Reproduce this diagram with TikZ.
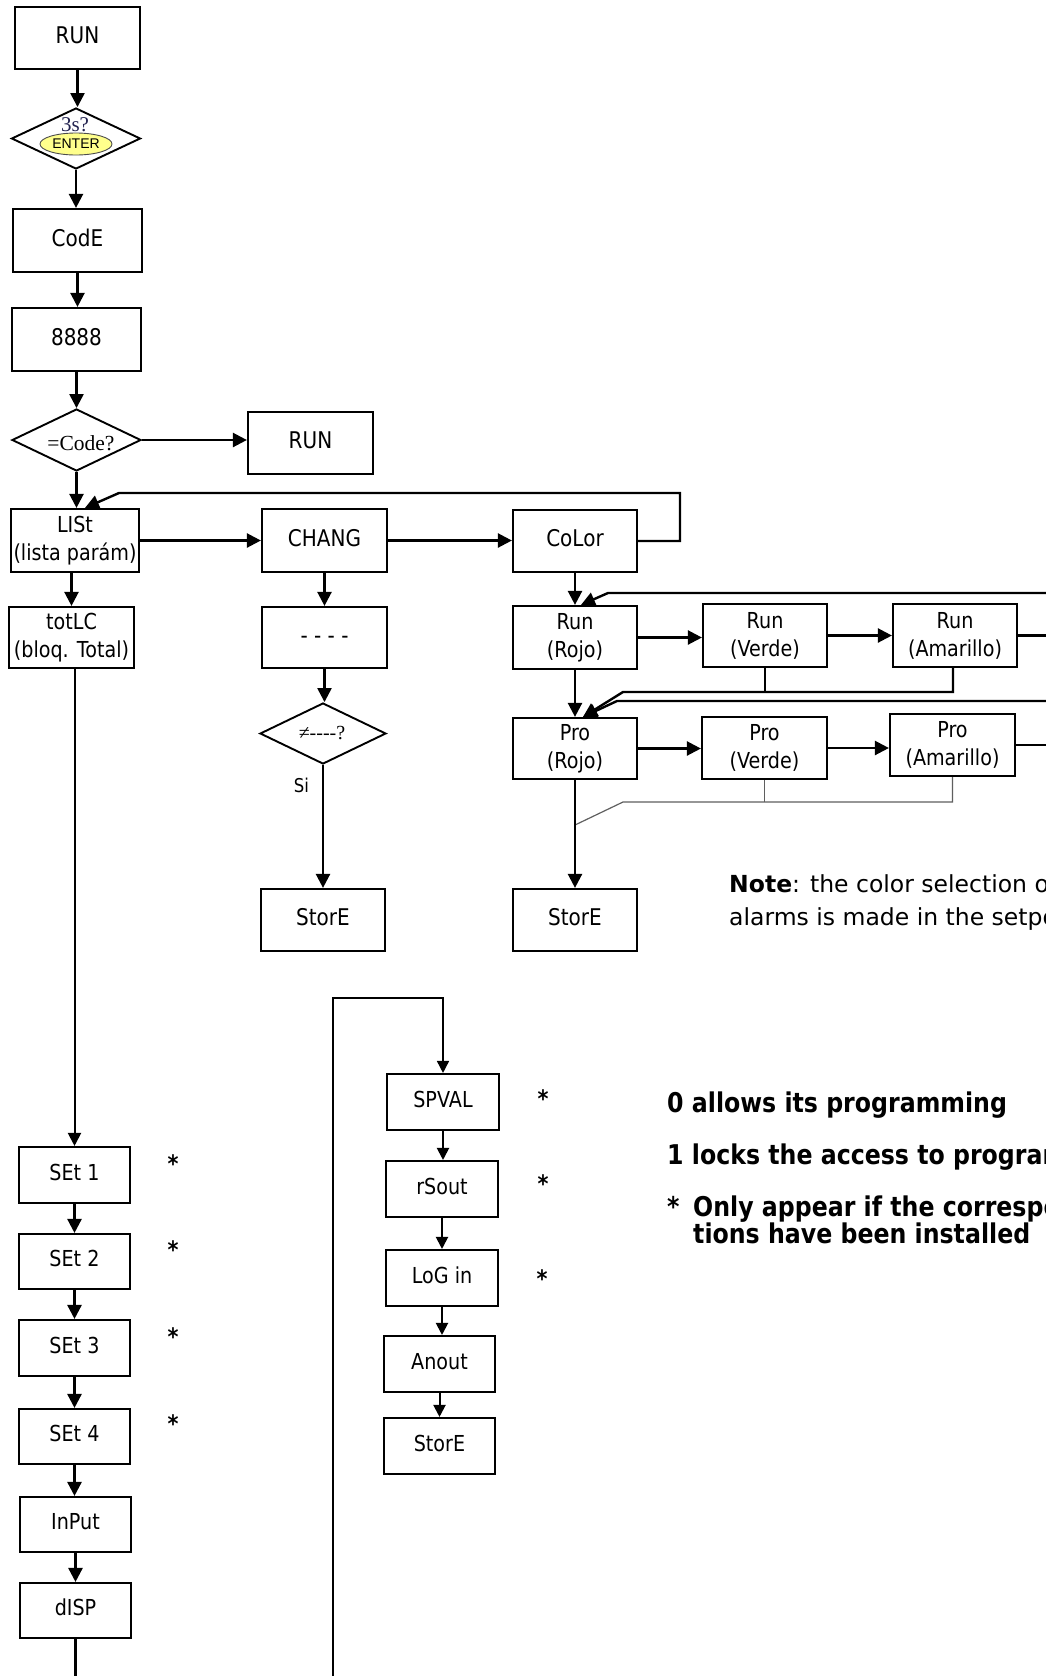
\documentclass[tikz,border=0pt]{standalone}
\usepackage{fontspec}
\setmainfont{DejaVu Sans}[FakeStretch=0.87]
\newfontfamily\verd{DejaVu Sans}
\newfontfamily\tim{Liberation Serif}
\newfontfamily\ari{Liberation Sans}
\usetikzlibrary{shapes.geometric,arrows.meta}
\definecolor{enteryellow}{RGB}{255,255,140}
\definecolor{navytxt}{RGB}{35,35,80}
\definecolor{thingray}{RGB}{95,95,95}
\tikzset{
  bigbox/.style={draw, line width=2.2pt, inner sep=0pt, font=\fontsize{23}{28}\selectfont, text height=17pt, text depth=6pt},
  twobox/.style={draw, line width=2.2pt, inner sep=0pt, align=center, font=\fontsize{22}{28}\selectfont},
  smallbox/.style={draw, line width=2.1pt, inner sep=0pt, minimum height=56pt, font=\fontsize{22}{26}\selectfont, text height=16pt, text depth=5.5pt},
  dia/.style={diamond, draw, line width=1.9pt, inner sep=0pt},
  arr/.style={line width=2.4pt, -{Triangle[length=14pt,width=14pt]}},
  sarr/.style={line width=2pt, -{Triangle[length=12pt,width=12pt]}},
  lline/.style={line width=2.4pt},
  tline/.style={line width=1.1pt},
  gline/.style={line width=1.2pt, draw=thingray},
  star/.style={font=\bfseries\fontsize{24}{24}\selectfont, anchor=base, inner sep=0pt},
  blk/.style={font=\bfseries\fontsize{27.2}{30}\selectfont, anchor=base west, inner sep=0pt},
}
\begin{document}
\begin{tikzpicture}[x=1pt,y=-1pt]
\useasboundingbox (0,0) rectangle (1046,1676);
\clip (0,0) rectangle (1046,1676);
\fill[white] (0,0) rectangle (1046,1676);

% main column
\node[bigbox, minimum width=125pt, minimum height=62pt] (run1) at (77.5,38) {RUN};
\node[dia, minimum width=129pt, minimum height=61pt] (d1) at (76,138.5) {};
\node[font=\tim\fontsize{21}{21}\selectfont, text=navytxt, inner sep=0pt] (q3s) at (75,125) {3s?};
\node[ellipse, draw=black!70, line width=0.9pt, fill=enteryellow, minimum width=72pt, minimum height=22pt, inner sep=0pt, font=\ari\fontsize{14}{14}\selectfont] (enter) at (76,144) {ENTER};
\node[bigbox, minimum width=129pt, minimum height=63pt] (code) at (77.5,240.5) {CodE};
\node[bigbox, minimum width=129pt, minimum height=63pt] (n8888) at (76.5,339.5) {8888};
\node[dia, minimum width=129pt, minimum height=62pt] (d2) at (76.5,440) {};
\node[font=\tim\fontsize{21.5}{21.5}\selectfont, inner sep=0pt] (qcode) at (81,443) {=Code?};
\node[bigbox, minimum width=125pt, minimum height=62pt] (run2) at (310.5,443) {RUN};
\node[twobox, minimum width=128pt, minimum height=63pt] (list) at (75,540.5) {LISt\\(lista parám)};
\node[bigbox, minimum width=125pt, minimum height=63pt] (chang) at (324.5,540.5) {CHANG};
\node[bigbox, minimum width=124pt, minimum height=62pt] (color) at (575,541) {CoLor};
\node[twobox, minimum width=125pt, minimum height=61pt] (totlc) at (71.5,637.5) {totLC\\(bloq. Total)};
\node[bigbox, minimum width=125pt, minimum height=61pt] (dash) at (324.5,637.5) {- - - -};
\node[dia, minimum width=126pt, minimum height=61pt] (d3) at (323,733.5) {};
\node[font=\tim\fontsize{20}{20}\selectfont, inner sep=0pt] (qdash) at (322,733) {≠----?};
\node[font=\fontsize{19}{19}\selectfont, inner sep=0pt] (si) at (301.5,785) {Si};
\node[bigbox, minimum width=124pt, minimum height=62pt] (store1) at (323,920) {StorE};

% colour section
\node[twobox, minimum width=124pt, minimum height=63pt] (runr) at (575,637.5) {Run\\(Rojo)};
\node[twobox, minimum width=124pt, minimum height=63pt] (runv) at (765,635.5) {Run\\(Verde)};
\node[twobox, minimum width=124pt, minimum height=63pt] (runa) at (955,635.5) {Run\\(Amarillo)};
\node[twobox, minimum width=124pt, minimum height=61pt] (pror) at (575,748.5) {Pro\\(Rojo)};
\node[twobox, minimum width=125pt, minimum height=62pt] (prov) at (764.5,748) {Pro\\(Verde)};
\node[twobox, minimum width=125pt, minimum height=62pt] (proa) at (952.5,745) {Pro\\(Amarillo)};
\node[bigbox, minimum width=124pt, minimum height=62pt] (store2) at (575,920) {StorE};

\node[font=\verd\fontsize{23.5}{33}\selectfont, anchor=base west, inner sep=0pt] (note1) at (729,892) {\textbf{Note}: the color selection o};
\node[font=\verd\fontsize{23.5}{33}\selectfont, anchor=base west, inner sep=0pt] (note2) at (729,925) {alarms is made in the setpo};

% SPVAL column
\node[smallbox, minimum width=112pt] (spval) at (443,1102) {SPVAL};
\node[smallbox, minimum width=112pt] (rsout) at (442,1189) {rSout};
\node[smallbox, minimum width=112pt] (login) at (442,1278) {LoG in};
\node[smallbox, minimum width=111pt] (anout) at (439.5,1364) {Anout};
\node[smallbox, minimum width=111pt] (store3) at (439.5,1446) {StorE};

% SEt column
\node[smallbox, minimum width=111pt] (set1) at (74.5,1175) {SEt 1};
\node[smallbox, minimum width=111pt, minimum height=55pt] (set2) at (74.5,1261.5) {SEt 2};
\node[smallbox, minimum width=111pt] (set3) at (74.5,1348) {SEt 3};
\node[smallbox, minimum width=111pt, minimum height=55pt] (set4) at (74.5,1436.5) {SEt 4};
\node[smallbox, minimum width=111pt, minimum height=55pt] (input) at (75.5,1524.5) {InPut};
\node[smallbox, minimum width=111pt, minimum height=55pt] (disp) at (75.5,1610.5) {dISP};

% asterisks
\node[star] (s1) at (173,1172) {*};
\node[star] (s2) at (173,1258) {*};
\node[star] (s3) at (173,1345) {*};
\node[star] (s4) at (173,1432) {*};
\node[star] (s5) at (543,1107) {*};
\node[star] (s6) at (543,1192) {*};
\node[star] (s7) at (542,1287) {*};

% bold notes
\node[blk] (t0) at (667,1112) {0 allows its programming};
\node[blk] (t1) at (667,1164) {1 locks the access to program};
\node[blk] (t2) at (667,1216) {\makebox[26pt][l]{*}Only appear if the correspo};
\node[blk] (t3) at (693,1243) {tions have been installed};

% coordinates
\coordinate (fbR) at (680,493);
\coordinate (fbL) at (119,493);
\coordinate (raOut) at (1052,635.5);
\coordinate (paOut) at (1052,745);
\coordinate (rtopR) at (1052,593);
\coordinate (rtopL) at (608,593);
\coordinate (ptopR) at (1052,701);
\coordinate (ptopL) at (617,701);
\coordinate (rdrop) at (623,692);
\coordinate (gdrop) at (623,802);
\coordinate (gjoin) at (575,825);
\coordinate (loopB) at (333,1680);
\coordinate (loopT) at (333,998);
\coordinate (dispOut) at (75.5,1680);

% connectors main column
\draw[arr] (run1.south) -- (run1.south |- d1.north);
\draw[arr] (d1.south) -- (d1.south |- code.north);
\draw[arr] (code.south) -- (code.south |- n8888.north);
\draw[arr] (n8888.south) -- (n8888.south |- d2.north);
\draw[arr] (d2.east) -- (run2.west |- d2.east);
\draw[arr] (d2.south) -- (d2.south |- list.north);
\draw[arr] (list.east) -- (chang.west);
\draw[arr] (chang.east) -- (color.west |- chang.east);
\draw[arr] (color.east) -| (fbR) -- (fbL) -- ([xshift=10pt]list.north);
\draw[arr] (totlc.north |- list.south) -- (totlc.north);
\draw[line width=2pt, -{Triangle[length=13pt,width=13pt]}] (set1.north |- totlc.south) -- (set1.north);
\draw[arr] (chang.south) -- (dash.north);
\draw[arr] (dash.south) -- (dash.south |- d3.north);
\draw[arr] (d3.south) -- (d3.south |- store1.north);

% colour section connectors
\draw[arr] (color.south) -- (runr.north);
\draw[arr] (runr.east) -- (runr.east -| runv.west);
\draw[arr] (runv.east) -- (runv.east -| runa.west);
\draw[lline] (runa.east) -- (raOut);
\draw[arr] (rtopR) -- (rtopL) -- ([xshift=6pt]runr.north);
\draw[arr] (runr.south) -- (pror.north);
\draw[tline] (runv.south) -- (runv.south |- rdrop);
\draw[arr] ([xshift=-2pt]runa.south) -- ([xshift=-2pt]runa.south |- rdrop) -- (rdrop) -- ([xshift=8pt]pror.north);
\draw[arr] (ptopR) -- (ptopL) -- ([xshift=8pt]pror.north);
\draw[arr] (pror.east) -- (pror.east -| prov.west);
\draw[arr] (prov.east) -- (prov.east -| proa.west);
\draw[lline] (proa.east) -- (paOut);
\draw[gline] (prov.south) -- (prov.south |- gdrop);
\draw[gline] (proa.south) -- (proa.south |- gdrop) -- (gdrop) -- (gjoin);
\draw[arr] (pror.south) -- (store2.north);

% SPVAL column connectors
\draw[line width=1.5pt, -{Triangle[length=12pt,width=12pt]}] (loopB) -- (loopT) -- (loopT -| spval.north) -- (spval.north);
\draw[sarr] (spval.south) -- (spval.south |- rsout.north);
\draw[sarr] (rsout.south) -- (rsout.south |- login.north);
\draw[sarr] (login.south) -- (login.south |- anout.north);
\draw[sarr] (anout.south) -- (store3.north);

% SEt column connectors
\draw[arr] (set1.south) -- (set2.north);
\draw[arr] (set2.south) -- (set3.north);
\draw[arr] (set3.south) -- (set4.north);
\draw[arr] (set4.south) -- (set4.south |- input.north);
\draw[arr] (input.south) -- (disp.north);
\draw[lline] (disp.south) -- (dispOut);
\end{tikzpicture}
\end{document}
